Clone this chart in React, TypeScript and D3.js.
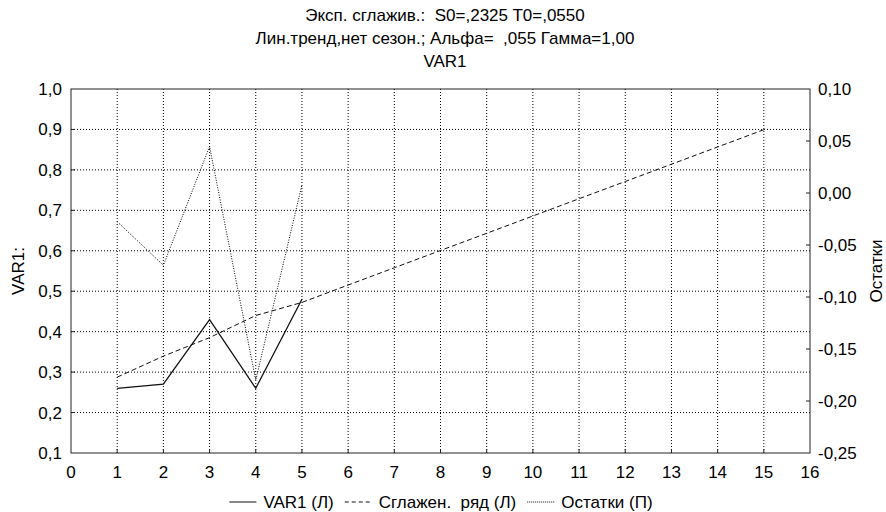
import React, { useEffect, useRef } from 'react';
import * as d3 from 'd3';

const xValues = [1, 2, 3, 4, 5, 6, 7, 8, 9, 10, 11, 12, 13, 14, 15];
const var1 = [0.26, 0.27, 0.43, 0.26, 0.48];
const smoothed = [0.2875, 0.3395, 0.3853, 0.4399, 0.4723, 0.5153, 0.558, 0.6007, 0.6433, 0.686, 0.7287, 0.7713, 0.814, 0.8567, 0.8993];
const residuals = [-0.0275, -0.0695, 0.0447, -0.1799, 0.0078];

const xTickValues = [0, 1, 2, 3, 4, 5, 6, 7, 8, 9, 10, 11, 12, 13, 14, 15, 16];
const leftTickValues = [0.1, 0.2, 0.3, 0.4, 0.5, 0.6, 0.7, 0.8, 0.9, 1.0];
const rightTickValues = [-0.25, -0.2, -0.15, -0.1, -0.05, 0, 0.05, 0.1];

const titles = [
  'Эксп. сглажив.:\u00A0 S0=,2325 T0=,0550',
  'Лин.тренд,нет сезон.; Альфа=\u00A0 ,055 Гамма=1,00',
  'VAR1',
];
const legendItems = [
  { label: 'VAR1 (Л)', dash: null },
  { label: 'Сглажен.\u00A0 ряд (Л)', dash: '4,3' },
  { label: 'Остатки (П)', dash: '1,1' },
];

const FONT = 'Arial, "Liberation Sans", sans-serif';
const FS = '17px';

const App = () => {
  const ref = useRef<SVGSVGElement>(null);

  useEffect(() => {
    const svg = d3.select(ref.current);
    svg.selectAll('*').remove();

    const left = 71, right = 810, top = 89, bottom = 453;

    const x = d3.scaleLinear().domain([0, 16]).range([left, right]);
    const yL = d3.scaleLinear().domain([0.1, 1.0]).range([bottom, top]);
    const yR = d3.scaleLinear().domain([-0.25, 0.1]).range([bottom, top]);

    const commaFmt = (f: string) => (v: number) => d3.format(f)(v).replace('.', ',').replace('−', '-');

    // titles
    svg.selectAll('text.title')
      .data(titles)
      .enter()
      .append('text')
      .attr('class', 'title')
      .attr('x', 445)
      .attr('y', (d, i) => 21 + i * 23)
      .attr('text-anchor', 'middle')
      .text(d => d);

    // grid
    const grid = svg.append('g');
    grid.selectAll('line.gx')
      .data(xTickValues.slice(1, -1))
      .enter()
      .append('line')
      .attr('x1', d => x(d)).attr('x2', d => x(d))
      .attr('y1', top).attr('y2', bottom)
      .attr('stroke', '#000')
      .attr('stroke-dasharray', '1,2');
    grid.selectAll('line.gy')
      .data(leftTickValues.slice(1, -1))
      .enter()
      .append('line')
      .attr('x1', left).attr('x2', right)
      .attr('y1', d => yL(d)).attr('y2', d => yL(d))
      .attr('stroke', '#000')
      .attr('stroke-dasharray', '1,2');

    // frame
    svg.append('rect')
      .attr('x', left).attr('y', top)
      .attr('width', right - left).attr('height', bottom - top)
      .attr('fill', 'none')
      .attr('stroke', '#222');

    // inner tick marks
    svg.selectAll('line.tx')
      .data(xTickValues.slice(1, -1))
      .enter()
      .append('line')
      .attr('x1', d => x(d)).attr('x2', d => x(d))
      .attr('y1', bottom).attr('y2', bottom - 4)
      .attr('stroke', '#222');
    svg.selectAll('line.tl')
      .data(leftTickValues.slice(1, -1))
      .enter()
      .append('line')
      .attr('x1', left).attr('x2', left + 4)
      .attr('y1', d => yL(d)).attr('y2', d => yL(d))
      .attr('stroke', '#222');
    svg.selectAll('line.tr')
      .data(rightTickValues.slice(1, -1))
      .enter()
      .append('line')
      .attr('x1', right).attr('x2', right - 4)
      .attr('y1', d => yR(d)).attr('y2', d => yR(d))
      .attr('stroke', '#222');

    // tick labels
    svg.selectAll('text.xl')
      .data(xTickValues)
      .enter()
      .append('text')
      .attr('x', d => x(d))
      .attr('y', 478)
      .attr('text-anchor', 'middle')
      .text(d => String(d));
    svg.selectAll('text.ll')
      .data(leftTickValues)
      .enter()
      .append('text')
      .attr('x', 62)
      .attr('y', d => yL(d) + 6)
      .attr('text-anchor', 'end')
      .text(commaFmt('.1f'));
    svg.selectAll('text.rl')
      .data(rightTickValues)
      .enter()
      .append('text')
      .attr('x', 818)
      .attr('y', d => yR(d) + 6)
      .attr('text-anchor', 'start')
      .text(commaFmt('.2f'));

    // axis titles
    svg.append('text')
      .attr('transform', `translate(24,${(top + bottom) / 2}) rotate(-90)`)
      .attr('text-anchor', 'middle')
      .text('VAR1:');
    svg.append('text')
      .attr('transform', `translate(882,${(top + bottom) / 2}) rotate(-90)`)
      .attr('text-anchor', 'middle')
      .text('Остатки');

    // series
    const lineL = d3.line<number>().x((d, i) => x(xValues[i])).y(d => yL(d));
    const lineR = d3.line<number>().x((d, i) => x(xValues[i])).y(d => yR(d));

    svg.append('path')
      .datum(residuals)
      .attr('d', lineR)
      .attr('fill', 'none')
      .attr('stroke', '#000')
      .attr('stroke-dasharray', '1,1.5');
    svg.append('path')
      .datum(smoothed)
      .attr('d', lineL)
      .attr('fill', 'none')
      .attr('stroke', '#111')
      .attr('stroke-dasharray', '5,3');
    svg.append('path')
      .datum(var1)
      .attr('d', lineL)
      .attr('fill', 'none')
      .attr('stroke', '#111')
      .attr('stroke-width', 1.3);

    // legend, laid out from measured text widths
    const lg = svg.append('g');
    let cx = 0;
    legendItems.forEach(item => {
      const l = lg.append('line')
        .attr('x1', cx).attr('x2', cx + 27)
        .attr('y1', 0).attr('y2', 0)
        .attr('stroke', '#111');
      if (item.dash) l.attr('stroke-dasharray', item.dash);
      const t = lg.append('text')
        .attr('x', cx + 34)
        .attr('y', 6)
        .text(item.label);
      const w = (t.node() as SVGTextElement).getComputedTextLength();
      cx += 34 + w + 11;
    });
    const total = cx - 11;
    lg.attr('transform', `translate(${441 - total / 2},502)`);
  }, []);

  return (
    <svg
      ref={ref}
      width={886}
      height={512}
      style={{ position: 'absolute', left: 0, top: 0, background: '#fff', fontFamily: FONT, fontSize: FS }}
    />
  );
};

export default App;
